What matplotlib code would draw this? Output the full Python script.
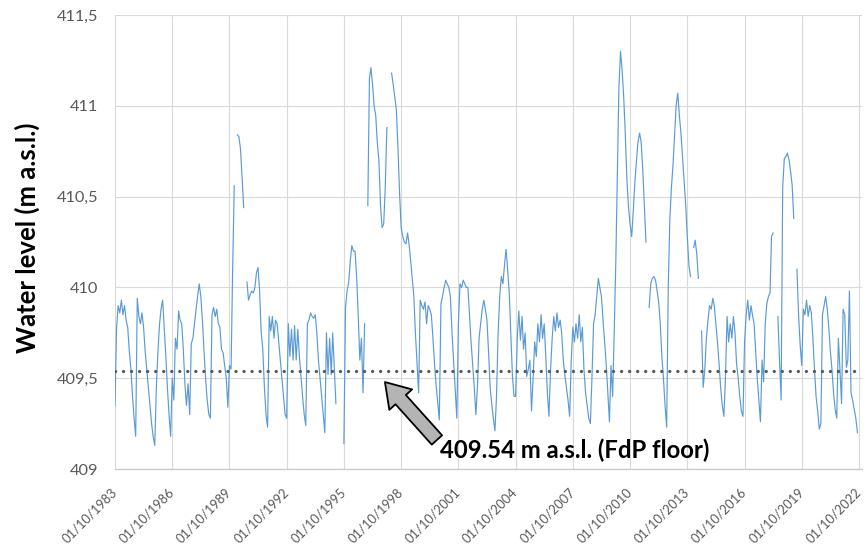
import numpy as np
import pandas as pd
import matplotlib
matplotlib.use("Agg")
import matplotlib.pyplot as plt
from matplotlib.patches import FancyArrowPatch
from matplotlib.ticker import FuncFormatter

NA = np.nan

# Monthly water level (m a.s.l.), one row per hydrological year (Oct -> Sep)
levels_1983_1990 = [
    409.35, 409.78, 409.90, 409.86, 409.93, 409.85, 409.90, 409.82, 409.78, 409.65, 409.55, 409.40,
    409.28, 409.18, 409.94, 409.84, 409.80, 409.86, 409.78, 409.65, 409.55, 409.45, 409.35, 409.25,
    409.18, 409.13, 409.45, 409.65, 409.80, 409.88, 409.93, 409.78, 409.62, 409.45, 409.30, 409.18,
    409.50, 409.38, 409.72, 409.66, 409.87, 409.82, 409.80, 409.66, 409.47, 409.35, 409.47, 409.30,
    409.69, 409.72, 409.80, 409.88, 409.95, 410.02, 409.95, 409.82, 409.65, 409.50, 409.38, 409.30,
    409.28, 409.85, 409.89, 409.84, 409.88, 409.80, 409.78, 409.66, 409.64, 409.57, 409.50, 409.34,
    409.57, 409.55, 410.10, 410.56, NA, 410.84, 410.83, 410.76, 410.60, 410.44, NA, 410.03,
]
levels_1990_1997 = [
    409.93, 409.96, 409.98, 409.97, 410.00, 410.08, 410.11, 409.98, 409.75, 409.66, 409.45, 409.30,
    409.23, 409.84, 409.76, 409.84, 409.72, 409.82, 409.80, 409.70, 409.60, 409.50, 409.40, 409.30,
    409.28, 409.80, 409.62, 409.77, 409.60, 409.79, 409.60, 409.77, 409.62, 409.51, 409.40, 409.30,
    409.24, 409.80, 409.82, 409.86, 409.84, 409.83, 409.85, 409.75, 409.60, 409.50, 409.40, 409.30,
    409.20, 409.75, 409.52, 409.72, 409.52, 409.75, 409.55, 409.36, NA, NA, NA, NA,
    409.14, 409.89, 409.98, 410.03, 410.15, 410.23, 410.20, 410.20, 410.06, 409.85, 409.60, 409.72,
    409.42, 409.80, NA, 410.45, 411.15, 411.21, 411.12, 411.00, 410.95, 410.80, 410.70, 410.45,
]
levels_1997_2004 = [
    410.33, 410.35, 410.55, 410.88, NA, NA, 411.18, 411.12, 411.05, 410.98, 410.77, 410.52,
    410.33, 410.28, 410.25, 410.24, 410.30, 410.24, 410.15, 410.05, 409.95, 409.75, 409.58, 409.42,
    409.93, 409.90, 409.88, 409.92, 409.80, 409.90, 409.88, 409.85, 409.72, 409.58, 409.46, 409.36,
    409.27, 409.91, 409.95, 410.00, 410.04, 410.02, 410.00, 409.95, 409.75, 409.60, 409.45, 409.28,
    409.80, 410.02, 410.00, 410.04, 410.02, 410.00, 410.00, 409.85, 409.70, 409.58, 409.45, 409.30,
    409.45, 409.72, 409.80, 409.88, 409.93, 409.88, 409.82, 409.65, 409.45, 409.36, 409.28, 409.21,
    409.40, 409.75, 409.95, 410.06, 410.02, 410.12, 410.21, 410.10, 409.97, 409.75, 409.51, 409.40,
]
levels_2004_2011 = [
    409.40, 409.72, 409.87, 409.71, 409.84, 409.66, 409.75, 409.51, 409.55, 409.60, 409.32, 409.50,
    409.70, 409.62, 409.80, 409.70, 409.85, 409.72, 409.80, 409.62, 409.42, 409.29, 409.55, 409.72,
    409.84, 409.76, 409.86, 409.78, 409.82, 409.75, 409.60, 409.52, 409.45, 409.38, 409.29, 409.60,
    409.78, 409.70, 409.80, 409.72, 409.85, 409.70, 409.78, 409.55, 409.42, 409.35, 409.28, 409.25,
    409.50, 409.80, 409.85, 409.95, 410.05, 410.00, 409.95, 409.82, 409.70, 409.58, 409.42, 409.26,
    409.57, 409.40, 409.75, 410.14, 410.65, 411.10, 411.30, 411.20, 411.05, 410.85, 410.60, 410.44,
    410.35, 410.28, 410.42, 410.58, 410.70, 410.80, 410.85, 410.80, 410.65, 410.45, 410.25, NA,
]
levels_2011_2018 = [
    409.89, 410.02, 410.05, 410.06, 410.04, 409.98, 409.92, 409.80, 409.62, 409.50, 409.35, 409.23,
    410.00, 410.38, 410.55, 410.68, 410.85, 411.00, 411.07, 410.95, 410.85, 410.72, 410.58, 410.45,
    410.28, 410.12, 410.06, NA, 410.22, 410.26, 410.18, 410.05, NA, 409.76, 409.45, 409.55,
    409.72, 409.82, 409.90, 409.88, 409.94, 409.90, 409.80, 409.70, 409.58, 409.45, 409.35, 409.29,
    409.50, 409.84, 409.70, 409.80, 409.72, 409.84, 409.75, 409.58, 409.50, 409.40, 409.32, 409.29,
    409.70, 409.85, 409.93, 409.82, 409.90, 409.85, 409.80, 409.65, 409.50, 409.38, 409.26, 409.60,
    409.48, 409.80, 409.91, 409.95, 409.97, 410.28, 410.30, NA, NA, 409.84, 409.60, 409.38,
]
levels_2018_2022 = [
    410.55, 410.71, 410.72, 410.74, 410.70, 410.64, 410.56, 410.38, NA, 410.10, 409.85, 409.68,
    409.57, 409.88, 409.85, 409.93, 409.84, 409.90, 409.86, 409.72, 409.55, 409.40, 409.32, 409.22,
    409.25, 409.85, 409.90, 409.95, 409.88, 409.78, 409.65, 409.55, 409.42, 409.33, 409.28, 409.72,
    409.55, 409.36, 409.88, 409.85, 409.56, 409.60, 409.98, 409.42, 409.38, 409.33, 409.28, 409.20,
]

FLOOR_LEVEL = 409.54
FLOOR_LABEL = "409.54 m a.s.l. (FdP floor)"
Y_LABEL = "Water level (m a.s.l.)"
Y_TICKS = [409, 409.5, 410, 410.5, 411, 411.5]
TICK_DATES = pd.date_range("1983-10-01", "2022-10-01", freq="36MS")

levels = np.array(levels_1983_1990 + levels_1990_1997 + levels_1997_2004
                  + levels_2004_2011 + levels_2011_2018 + levels_2018_2022)
dates = pd.date_range("1983-10-01", periods=len(levels), freq="MS")

plt.rcParams["font.family"] = ["Lato", "DejaVu Sans"]

fig = plt.figure(figsize=(8.67, 5.45), dpi=100)
ax = fig.add_axes([0.1326, 0.1394, 0.8616, 0.8330])

ax.plot(dates, levels, color="#5B9BD5", lw=0.85, zorder=3)
ax.plot(TICK_DATES[[0, -1]], [FLOOR_LEVEL, FLOOR_LEVEL], color="#595959",
        lw=2.4, ls=(0, (0.01, 2.4)), dash_capstyle="round", zorder=4)

ax.set_xlim(pd.Timestamp("1983-10-01"), pd.Timestamp("2022-11-27"))
ax.set_ylim(Y_TICKS[0], Y_TICKS[-1])
ax.set_xticks(TICK_DATES)
ax.set_xticklabels([d.strftime("%d/%m/%Y") for d in TICK_DATES],
                   rotation=45, ha="right", va="center", rotation_mode="anchor")
ax.set_yticks(Y_TICKS)
ax.yaxis.set_major_formatter(FuncFormatter(lambda v, _: f"{v:g}".replace(".", ",")))
ax.tick_params(axis="x", length=0, pad=15, labelsize=9.3, labelcolor="#595959")
ax.tick_params(axis="y", length=0, pad=12, labelsize=11.8, labelcolor="#595959")

ax.grid(True, color="#D9D9D9", lw=0.8)
ax.set_axisbelow(True)
for side in ("top", "right", "left"):
    ax.spines[side].set_visible(False)
ax.spines["bottom"].set_color("#C8C8C8")
ax.spines["bottom"].set_linewidth(0.9)

# block arrow pointing at the floor line
arrow = FancyArrowPatch((0.431, 0.064), (0.3614, 0.1916), transform=ax.transAxes,
                        arrowstyle="simple,head_length=17,head_width=22,tail_width=10",
                        mutation_scale=1, shrinkA=0, shrinkB=0,
                        facecolor="#B4B4B4", edgecolor="black", lw=1.3, zorder=5)
ax.add_patch(arrow)
ax.text(0.435, 0.042, FLOOR_LABEL, transform=ax.transAxes, ha="left", va="center",
        fontsize=17.2, fontweight="bold", color="black", zorder=6)

fig.text(0.031, 0.563, Y_LABEL, rotation=90, ha="center", va="center",
         fontsize=18.5, fontweight="bold", color="black")

fig.savefig("out.png", dpi=100)
